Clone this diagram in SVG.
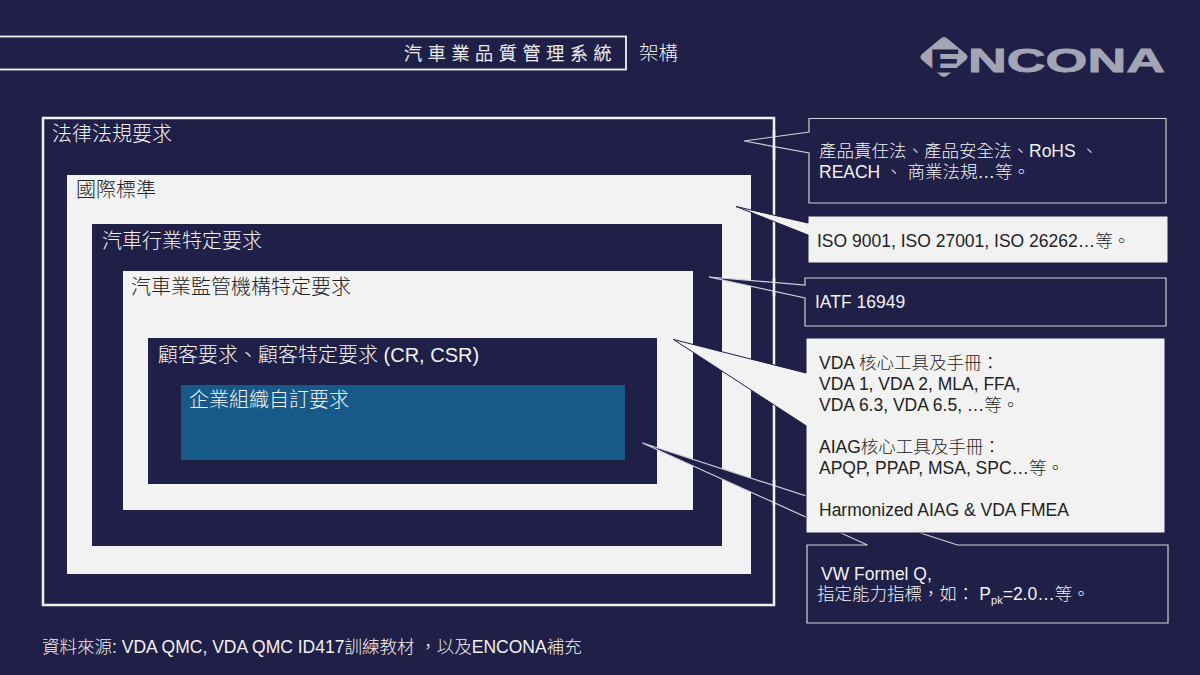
<svg xmlns="http://www.w3.org/2000/svg" width="1200" height="675" viewBox="0 0 1200 675" xml:lang="zh-Hant" lang="zh-Hant">
<style>
text{font-family:"Liberation Sans","Noto Sans CJK TC",sans-serif;font-size:17.500px;font-weight:300;fill:#222}
.w{fill:#f2f2f2}
.lab{font-size:20px}
.d{fill:#1f1f47}
.l{fill:#f2f2f2}
.cd{fill:#1f1f47;stroke:#d0d0d8;stroke-width:1.2}
.cl{fill:#f2f2f2;stroke:#1f1f47;stroke-width:1}
.logo{fill:#a3a5b5}
.edge{stroke:#f2f2f2;stroke-width:2.500;fill:none}
</style>
<rect width="1200" height="675" fill="#1f1f47"/>
<g id="header">
<rect x="-5" y="36.500" width="631" height="33" fill="#1f1f47" stroke="#f2f2f2" stroke-width="1.800"/>
<text class="w" x="404" y="60" style="font-size:18px;letter-spacing:5.700px;stroke:#f2f2f2;stroke-width:0.350">汽車業品質管理系統</text>
<text class="w" x="639" y="60" style="font-size:19.500px">架構</text>
</g>
<g id="logo">
<path class="logo" d="M940 39Q944 35 948 39L966 54Q969 57 966 60L948 75Q944 79 940 75L922 60Q919 57 922 54Z"/>
<text x="930" y="72" textLength="30" lengthAdjust="spacingAndGlyphs" style="font-size:31px;font-weight:bold;fill:#1f1f47;stroke:#1f1f47;stroke-width:1">E</text>
<text class="logo" x="968" y="72" textLength="197" lengthAdjust="spacingAndGlyphs" style="font-size:33px;font-weight:bold;fill:#a3a5b5;stroke:#a3a5b5;stroke-width:0.800">NCONA</text>
</g>
<g id="frame-legal">
<rect x="43" y="118" width="731" height="487" fill="#1f1f47" stroke="#f2f2f2" stroke-width="2.500"/>
<text class="w lab" x="52" y="141">法律法規要求</text>
</g>
<g id="frame-intl">
<rect class="l" x="67" y="175" width="684" height="399"/>
<text class="lab" x="76" y="197">國際標準</text>
</g>
<g id="frame-auto">
<rect class="d" x="92" y="224" width="630" height="322"/>
<text class="w lab" x="102" y="248">汽車行業特定要求</text>
</g>
<g id="frame-oversight">
<rect class="l" x="123" y="271" width="570" height="239"/>
<text class="lab" x="131" y="294">汽車業監管機構特定要求</text>
</g>
<g id="frame-customer">
<rect class="d" x="148" y="338" width="509" height="146"/>
<text class="w lab" x="158" y="362">顧客要求、顧客特定要求 (CR, CSR)</text>
</g>
<g id="frame-org">
<rect x="181" y="385" width="444" height="75" fill="#175a8a"/>
<text class="w lab" x="189" y="407">企業組織自訂要求</text>
</g>
<g id="connectors">
<path class="cd" d="M809 118.500H1166V203H809V153L744 141L809 132Z"/>
<path class="cl" d="M808 216H1168V263H808V235L736 206.500L808 223Z"/>
<path class="cd" d="M805 278H1166V326H805V298L709 277L805 285Z"/>
<path class="cd" d="M807 545H867.500L642.500 443L957.500 545H1168V623H807Z"/>
<path class="edge" d="M774 130V160M774 278V296M774 480V505"/>
<path class="cl" d="M806 338H1165V533H806V425.700L673.500 339.500L806 373Z"/>
</g>
<g id="note-legal">
<text class="w" x="819" y="157">產品責任法、產品安全法、RoHS 、</text>
<text class="w" x="819" y="178">REACH 、 商業法規…等。</text>
</g>
<g id="note-iso">
<text x="817" y="247">ISO 9001, ISO 27001, ISO 26262…等。</text>
</g>
<g id="note-iatf">
<text class="w" x="815" y="308">IATF 16949</text>
</g>
<g id="note-vda">
<text x="819" y="369">VDA 核心工具及手冊：</text>
<text x="819" y="390">VDA 1, VDA 2, MLA, FFA,</text>
<text x="819" y="411">VDA 6.3, VDA 6.5, …等。</text>
<text x="819" y="453">AIAG核心工具及手冊：</text>
<text x="819" y="474">APQP, PPAP, MSA, SPC…等。</text>
<text x="819" y="516">Harmonized AIAG &amp; VDA FMEA</text>
</g>
<g id="note-vw">
<text class="w" x="821" y="580">VW Formel Q,</text>
<text class="w" x="817" y="600">指定能力指標，如： P<tspan dy="4" style="font-size:11px">pk</tspan><tspan dy="-4">=2.0…等。</tspan></text>
</g>
<text class="w" x="42" y="653">資料來源: VDA QMC, VDA QMC ID417訓練教材 ，以及ENCONA補充</text>
</svg>
